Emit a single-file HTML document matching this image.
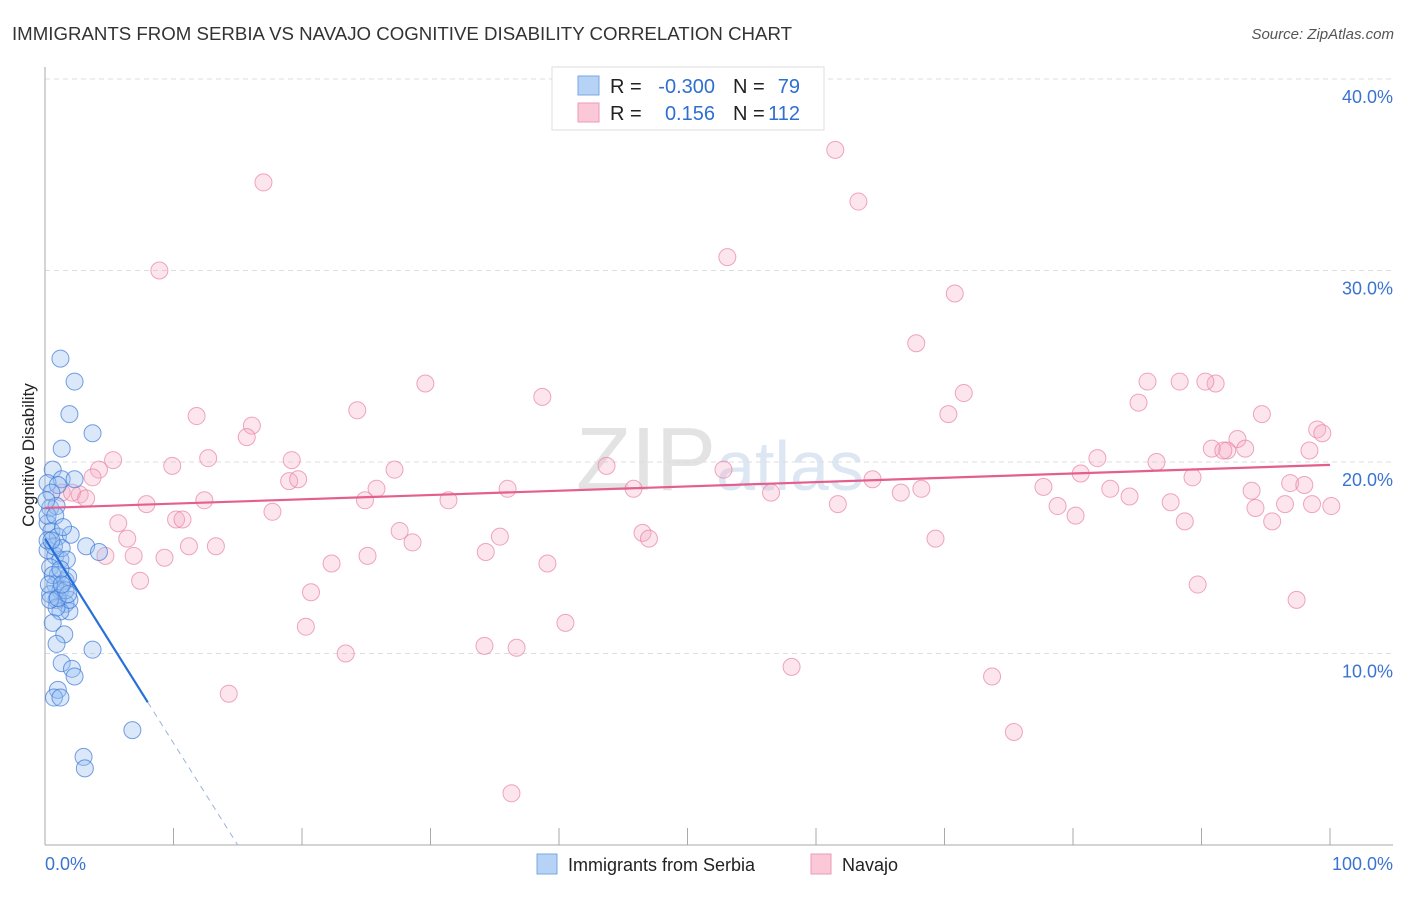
<!DOCTYPE html>
<html><head><meta charset="utf-8"><style>
body{margin:0;background:#fff;font-family:"Liberation Sans",sans-serif;}
svg text{font-family:"Liberation Sans",sans-serif;}
</style></head><body>
<svg id="chart" width="1406" height="892" xmlns="http://www.w3.org/2000/svg">
<text x="12" y="40" font-size="18" fill="#333" textLength="780" lengthAdjust="spacingAndGlyphs">IMMIGRANTS FROM SERBIA VS NAVAJO COGNITIVE DISABILITY CORRELATION CHART</text>
<text x="1394" y="39" font-size="15" fill="#555" font-style="italic" text-anchor="end">Source: ZipAtlas.com</text>
<text x="720" y="490" font-size="90" fill="#e3e3e3" text-anchor="middle" font-family="Liberation Serif">ZIP<tspan font-family="Liberation Sans" font-size="70" fill="#dde6f3">atlas</tspan></text>
<g id="grid"></g>
<g id="axes"></g>
<g id="pts"></g>
<g id="lines"></g>
<text transform="translate(34,455) rotate(-90)" font-size="17" fill="#222" text-anchor="middle">Cognitive Disability</text>
<g>
<rect x="552" y="67" width="272" height="63" fill="#fff" stroke="#ddd"/>
<rect x="578" y="76" width="21" height="19" fill="#b6d2f4" stroke="#7aa8e6"/>
<rect x="578" y="103" width="21" height="19" fill="#fbc8d8" stroke="#ef9ab6"/>
<text x="610" y="93" font-size="20" fill="#222">R = </text>
<text x="715" y="93" font-size="20" fill="#2f6fd0" text-anchor="end">-0.300</text>
<text x="733" y="93" font-size="20" fill="#222">N = </text>
<text x="800" y="93" font-size="20" fill="#2f6fd0" text-anchor="end">79</text>
<text x="610" y="120" font-size="20" fill="#222">R = </text>
<text x="715" y="120" font-size="20" fill="#2f6fd0" text-anchor="end">0.156</text>
<text x="733" y="120" font-size="20" fill="#222">N = </text>
<text x="800" y="120" font-size="20" fill="#2f6fd0" text-anchor="end">112</text>
</g>
<g>
<rect x="537" y="854" width="20" height="20" fill="#b6d2f4" stroke="#7aa8e6"/>
<text x="568" y="871" font-size="18" fill="#222">Immigrants from Serbia</text>
<rect x="811" y="854" width="20" height="20" fill="#fbc8d8" stroke="#ef9ab6"/>
<text x="842" y="871" font-size="18" fill="#222">Navajo</text>
</g>
</svg>
<script>
const yTicks=[10,20,30,40];
const yTickLabels=["10.0%","20.0%","30.0%","40.0%"];
const xTickVals=[0,10,20,30,40,50,60,70,80,90,100];
const xEndLabels=["0.0%","100.0%"];
const navajoX=[17,8.9,61.5,63.3,53.1,70.8,67.8,29.6,38.7,24.3,71.5,70.3,11.8,16.1,15.7,85.8,88.3,91.1,90.3,85.1,94.7,99,99.4,92.8,90.8,92,93.4,98.4,5.3,12.7,19.2,9.9,4.2,27.2,43.7,52.8,81.9,86.5,80.6,89.3,3.7,19,19.7,1.3,2.7,2.1,3.2,25.8,36,45.8,77.7,82.9,93.9,96.9,98,84.4,12.4,7.9,24.9,31.4,56.5,61.7,66.6,68.2,17.7,78.8,87.6,94.2,96.5,98.6,100.1,5.7,10.2,10.7,80.2,88.7,95.5,27.6,6.4,28.6,35.4,46.5,47,69.3,11.2,13.3,4.7,6.9,9.3,25.1,34.3,22.3,39.1,7.4,89.7,20.7,40.5,20.3,23.4,34.2,36.7,58.1,73.7,14.3,75.4,36.3,97.4,64.4,91.7];
const navajoY=[34.6,30,36.3,33.6,30.7,28.8,26.2,24.1,23.4,22.7,23.6,22.5,22.4,21.9,21.3,24.2,24.2,24.1,24.2,23.1,22.5,21.7,21.5,21.2,20.7,20.6,20.7,20.6,20.1,20.2,20.1,19.8,19.6,19.6,19.8,19.6,20.2,20,19.4,19.2,19.2,19,19.1,18.4,18.3,18.4,18.1,18.6,18.6,18.6,18.7,18.6,18.5,18.9,18.8,18.2,18,17.8,18,18,18.4,17.8,18.4,18.6,17.4,17.7,17.9,17.6,17.8,17.8,17.7,16.8,17,17,17.2,16.9,16.9,16.4,16,15.8,16.1,16.3,16,16.0,15.6,15.6,15.1,15.1,15,15.1,15.3,14.7,14.7,13.8,13.6,13.2,11.6,11.4,10.0,10.4,10.3,9.3,8.8,7.9,5.9,2.7,12.8,19.1,20.6];
const serbiaX=[1.2,2.3,1.9,3.7,1.3,0.6,1.3,2.3,0.2,1,0.5,0.4,0.2,0.5,1,2,3.2,4.2,0.2,0.8,1.2,0.4,1,1.6,0.8,1.2,0.4,0.9,1.6,1.9,1.2,0.6,1.5,3.7,1.3,2.1,2.3,1,0.7,1.2,6.8,3,3.1,1.8,0.7,0.2,0.9,0.2,1.3,0.6,1.9,0.9,1.7,0.4,1.2,0.1,0.8,1.4,0.5,1,0.3,1.6,0.9,1.8,1.3];
const serbiaY=[25.4,24.2,22.5,21.5,20.7,19.6,19.1,19.1,18.9,18.8,18.4,17.6,16.8,16.4,16.1,16.2,15.6,15.3,15.4,15.1,14.9,14.5,14.1,13.8,13.6,13.3,13.1,12.8,12.6,12.2,12.2,11.6,11,10.2,9.5,9.2,8.8,8.1,7.7,7.7,6,4.6,4,14,15.6,15.9,17.7,17.2,15.5,14.1,12.8,12.4,14.9,12.8,14.4,18,17.2,16.6,15.9,12.9,13.6,13.3,10.5,13.1,13.6];
const serbiaTrend=[[0,16.0],[8.0,7.45]];
const serbiaTrendExt=[[8.0,7.45],[15.0,0]];
const navajoTrend=[[0,17.6],[100,19.85]];

const NS="http://www.w3.org/2000/svg";
const X=v=>45+v*12.85, Y=v=>845-v*19.15;
function mk(tag,attrs,parent){const e=document.createElementNS(NS,tag);for(const k in attrs)e.setAttribute(k,attrs[k]);parent.appendChild(e);return e;}
const grid=document.getElementById('grid'),axes=document.getElementById('axes'),pts=document.getElementById('pts'),lines=document.getElementById('lines');
yTicks.forEach((t,i)=>{
 const l=mk('line',{x1:45,x2:1393,y1:Y(t),y2:Y(t),stroke:'#ddd','stroke-dasharray':'5,4'},grid);
 
 
 const tx=mk('text',{x:1393,y:Y(t)+24,'font-size':18,fill:'#3b73d1','text-anchor':'end'},axes);
 tx.textContent=yTickLabels[i];
 
 
});
const ya=mk('line',{x1:45,x2:45,y1:67,y2:845,stroke:'#aaa'},axes);


const xa=mk('line',{x1:45,x2:1393,y1:845,y2:845,stroke:'#aaa'},axes);


xTickVals.forEach(v=>{
 const t=mk('line',{x1:X(v),x2:X(v),y1:828,y2:845,stroke:'#aaa'},axes);
 
 
});
const xl0=mk('text',{x:45,y:870,'font-size':18,fill:'#3b73d1'},axes);xl0.textContent=xEndLabels[0];


const xl1=mk('text',{x:1393,y:870,'font-size':18,fill:'#3b73d1','text-anchor':'end'},axes);xl1.textContent=xEndLabels[1];


navajoX.forEach((v,i)=>{
 const c=mk('circle',{cx:X(v),cy:Y(navajoY[i]),r:8.5,fill:'rgba(246,170,196,0.3)',stroke:'rgba(232,130,165,0.7)','stroke-width':1},pts);
 
 
});
serbiaX.forEach((v,i)=>{
 const c=mk('circle',{cx:X(v),cy:Y(serbiaY[i]),r:8.5,fill:'rgba(150,190,240,0.35)',stroke:'rgba(60,120,215,0.7)','stroke-width':1},pts);
 
 
});
const nl=mk('line',{x1:X(navajoTrend[0][0]),y1:Y(navajoTrend[0][1]),x2:X(navajoTrend[1][0]),y2:Y(navajoTrend[1][1]),stroke:'#e45f8d','stroke-width':2.2},lines);


const sl=mk('line',{x1:X(serbiaTrend[0][0]),y1:Y(serbiaTrend[0][1]),x2:X(serbiaTrend[1][0]),y2:Y(serbiaTrend[1][1]),stroke:'#2870d8','stroke-width':2.2},lines);


const se=mk('line',{x1:X(serbiaTrendExt[0][0]),y1:Y(serbiaTrendExt[0][1]),x2:X(serbiaTrendExt[1][0]),y2:Y(serbiaTrendExt[1][1]),stroke:'#9ab4dc','stroke-width':1,'stroke-dasharray':'6,5'},lines);


</script>
</body></html>
